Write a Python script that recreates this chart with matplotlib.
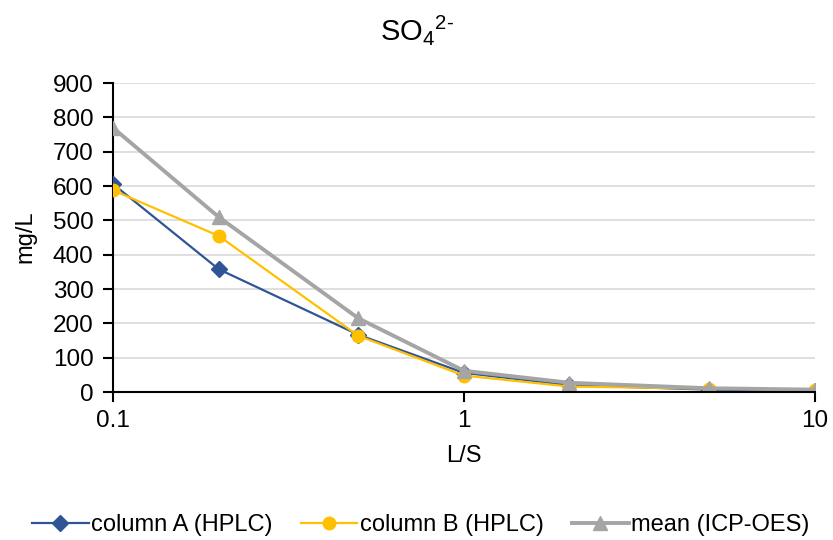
import matplotlib.pyplot as plt
from matplotlib.ticker import FixedLocator, NullLocator

plt.rcParams['font.family'] = ['Liberation Sans', 'DejaVu Sans']
plt.rcParams['mathtext.fontset'] = 'custom'
plt.rcParams['mathtext.rm'] = 'Liberation Sans'
plt.rcParams['mathtext.it'] = 'Liberation Sans:italic'

# data
ls_ratio = [0.1, 0.2, 0.5, 1, 2, 5, 10]
col_a = [606, 358, 167, 56, 20, 7, 4]
col_b = [588, 455, 164, 48, 16, 10, 7]
mean_icp = [770, 510, 215, 62, 27, 11, 7]

y_ticks = [0, 100, 200, 300, 400, 500, 600, 700, 800, 900]
x_ticks = [0.1, 1, 10]
x_labels = ['0.1', '1', '10']

fig = plt.figure(figsize=(8.33, 5.4), dpi=100)
ax = fig.add_axes([0.1357, 0.274, 0.8423, 0.572])

ax.plot(ls_ratio, col_a, color='#2F5597', lw=1.6, marker='D', ms=8,
        label='column A (HPLC)', zorder=3)
ax.plot(ls_ratio, col_b, color='#FFC000', lw=1.6, marker='o', ms=9,
        label='column B (HPLC)', zorder=4)
ax.plot(ls_ratio, mean_icp, color='#A5A5A5', lw=2.8, marker='^', ms=10,
        label='mean (ICP-OES)', zorder=5)

ax.set_xscale('log')
ax.set_xlim(0.1, 10)
ax.set_ylim(0, 900)
ax.xaxis.set_major_locator(FixedLocator(x_ticks))
ax.xaxis.set_minor_locator(NullLocator())
ax.set_xticklabels(x_labels)
ax.set_yticks(y_ticks)

ax.grid(axis='y', color='#D9D9D9', lw=1.2)
ax.set_axisbelow(True)
for s in ['top', 'right']:
    ax.spines[s].set_visible(False)
for s in ['left', 'bottom']:
    ax.spines[s].set_linewidth(1.5)
    ax.spines[s].set_color('black')
ax.tick_params(axis='both', direction='out', length=7, width=1.5,
               labelsize=17.5, colors='black')
ax.tick_params(axis='x', pad=6)
ax.tick_params(axis='y', pad=7)
ax.spines['bottom'].set_zorder(6)

# labels and title placed in figure coords
fig.text(0.557, 0.156, 'L/S', fontsize=17, ha='center', va='center')
fig.text(0.030, 0.561, 'mg/L', fontsize=17, ha='center', va='center',
         rotation=90)
fig.text(0.5, 0.945, r'SO$_4$$^{2\text{-}}$', fontsize=21, ha='center',
         va='center')

ax.legend(loc='center', bbox_to_anchor=(0.505, 0.028),
          bbox_transform=fig.transFigure, ncol=3, frameon=False,
          fontsize=17, handlelength=2.4, columnspacing=1.2,
          handletextpad=0.1)

fig.savefig('out.png', dpi=100)
